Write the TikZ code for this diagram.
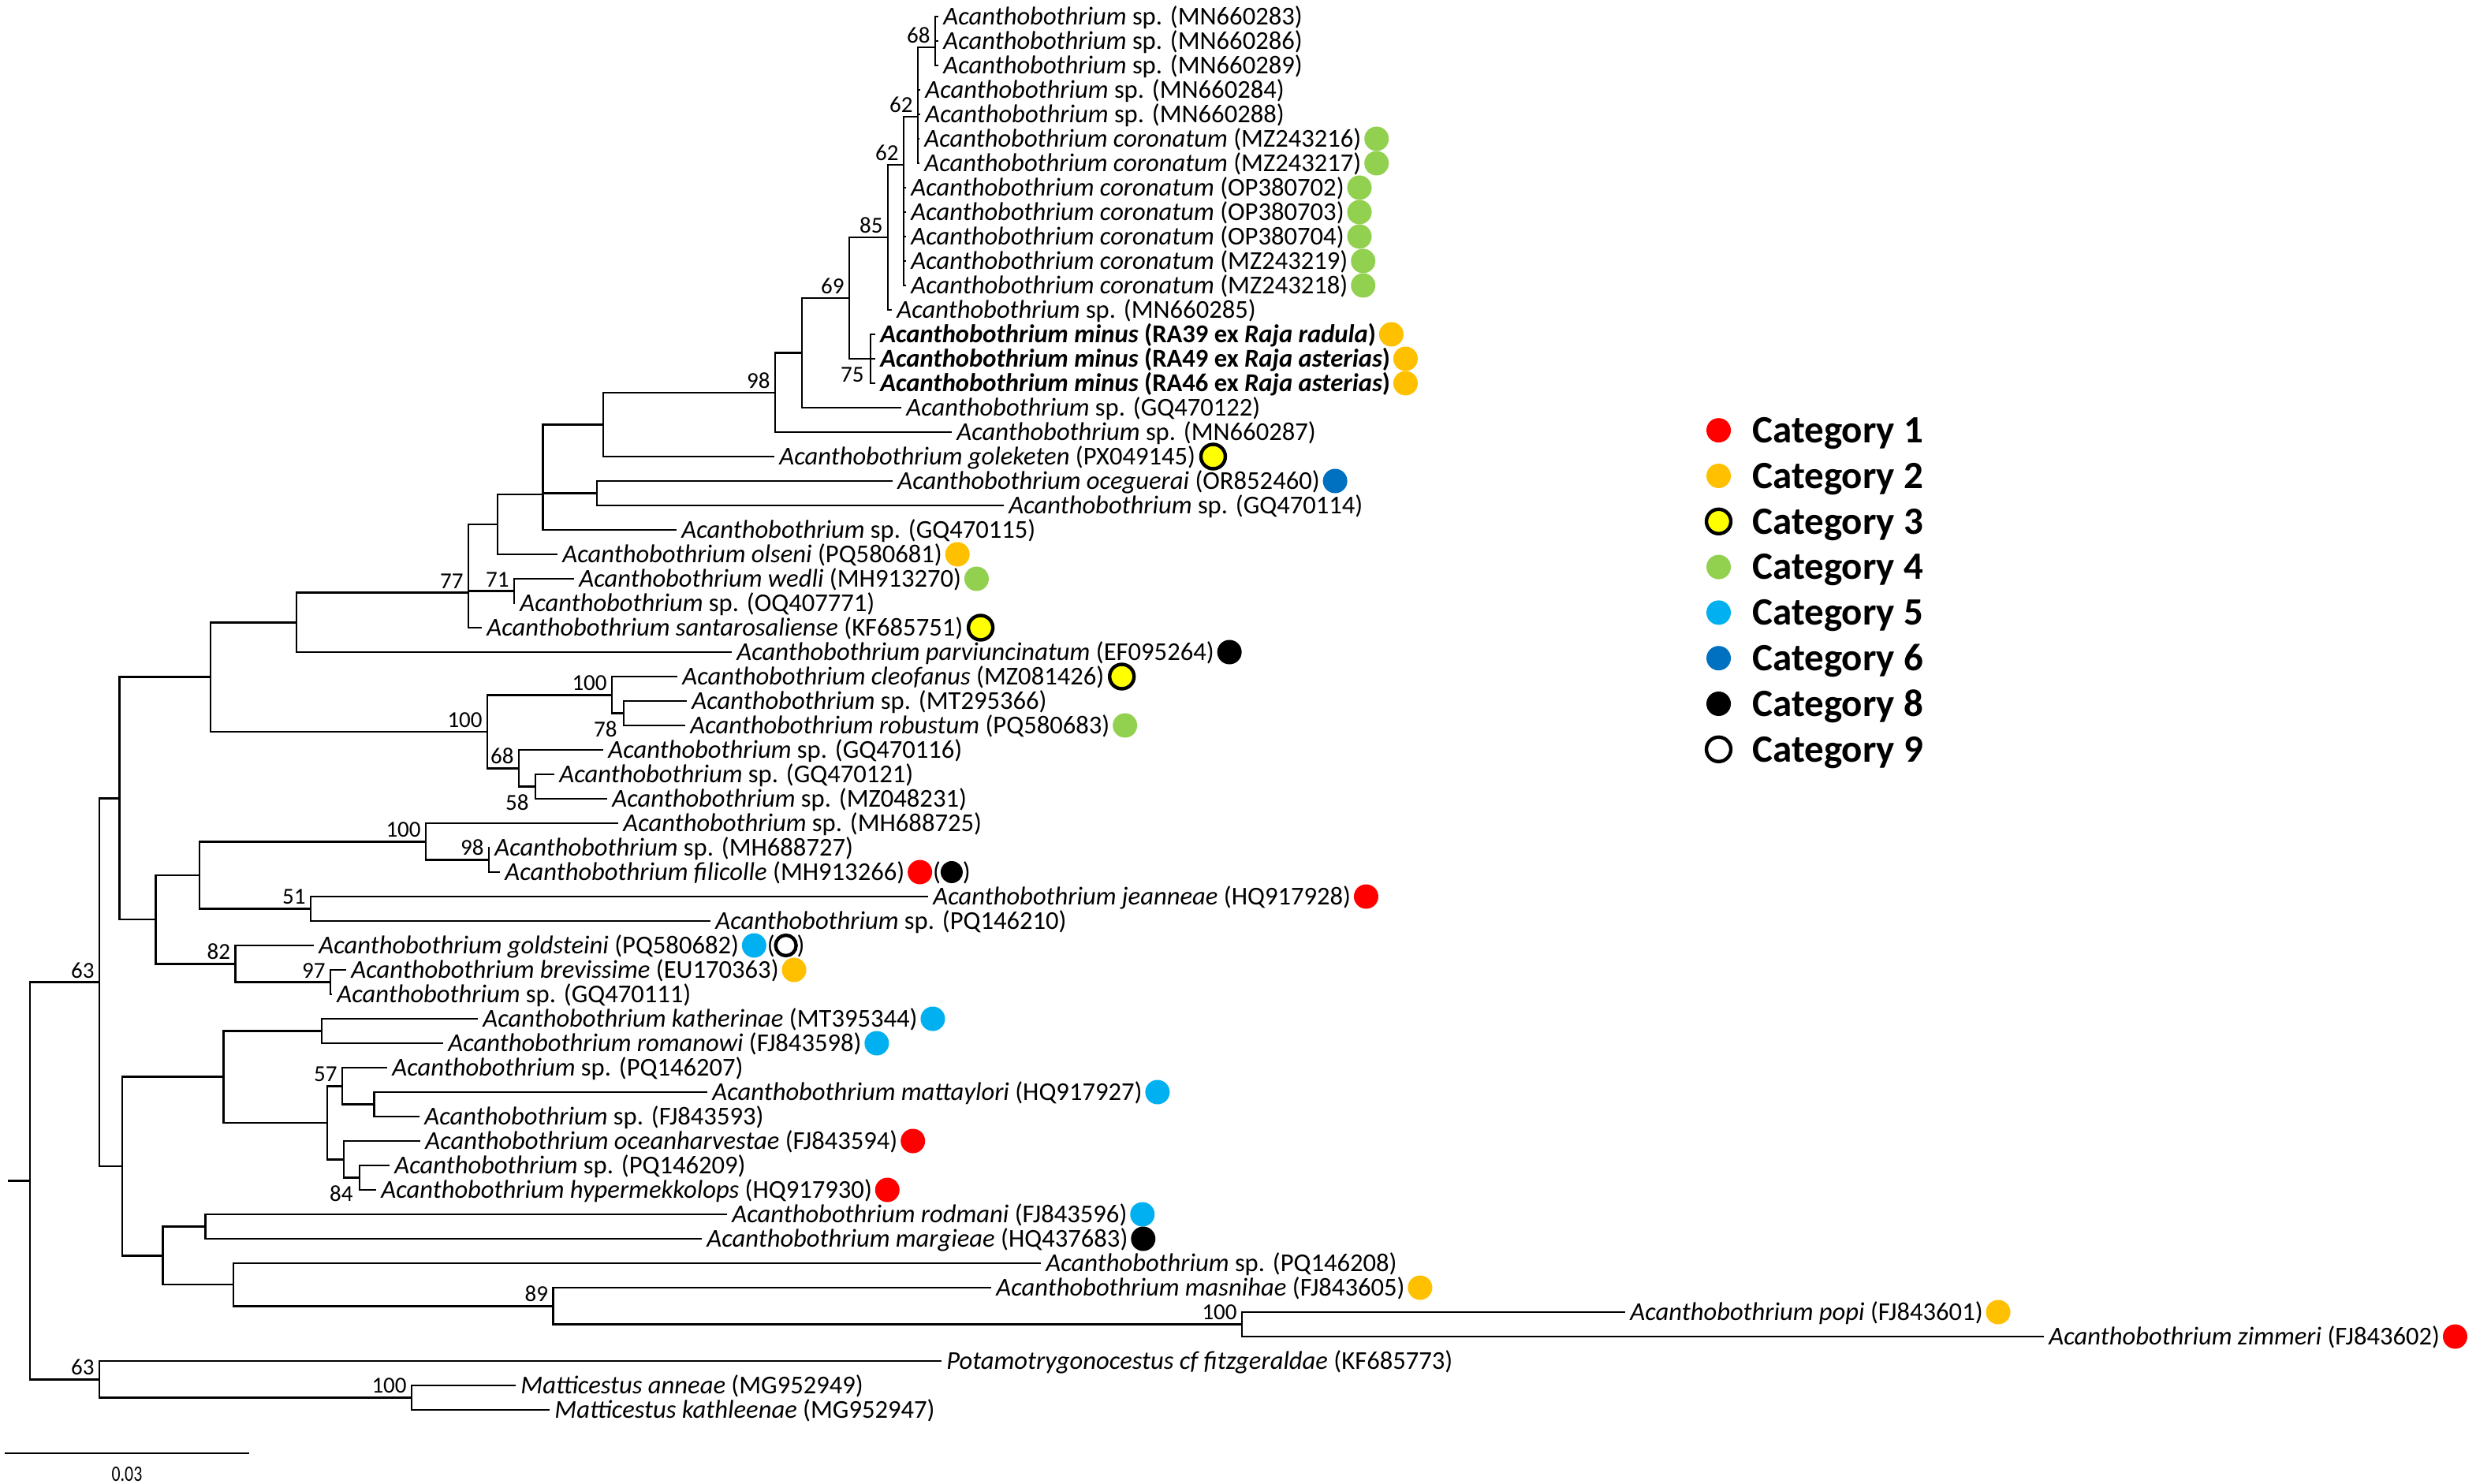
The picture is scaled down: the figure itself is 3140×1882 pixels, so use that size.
\documentclass[tikz,border=0pt]{standalone}
\usepackage{fontspec}
\setmainfont{Carlito}
\usetikzlibrary{calc}
\definecolor{catA}{HTML}{FF0000}
\definecolor{catB}{HTML}{FFC000}
\definecolor{catC}{HTML}{FFFF00}
\definecolor{catD}{HTML}{92D050}
\definecolor{catE}{HTML}{00B0F0}
\definecolor{catF}{HTML}{0070C0}
\tikzset{
  brn/.style={line width=1.25pt},
  tiplab/.style={anchor=west, inner xsep=3pt, inner ysep=0pt, text height=13pt, text depth=2.6pt, font=\fontsize{16.3}{19}\selectfont},
  bsup/.style={anchor=south east, inner sep=0pt, font=\fontsize{14.5}{17}\selectfont, xshift=-3pt, yshift=2.5pt},
  bsdn/.style={anchor=north east, inner sep=0pt, font=\fontsize{14.5}{17}\selectfont, xshift=-4pt, yshift=-5pt},
  catdot/.style={circle, inner sep=0pt, minimum size=15.5pt},
  c1/.style={catdot, fill=catA},
  c2/.style={catdot, fill=catB},
  c3/.style={catdot, fill=catC, draw=black, line width=2.2pt},
  c4/.style={catdot, fill=catD},
  c5/.style={catdot, fill=catE},
  c6/.style={catdot, fill=catF},
  c8/.style={catdot, fill=black},
  c9/.style={catdot, fill=white, draw=black, line width=2.2pt},
  parnode/.style={anchor=west, inner sep=0pt, text height=13pt, text depth=2.6pt, font=\fontsize{16.3}{19}\selectfont},
  legtext/.style={anchor=west, inner sep=0pt, text height=15.7pt, text depth=0pt, font=\fontsize{24.5}{29}\selectfont\bfseries},
}
\newcommand{\Ac}{\textit{Acanthobothrium}}
\begin{document}
\begin{tikzpicture}[x=0.5pt, y=-0.5pt]
\fill[white] (0,0) rectangle (3140,1882);
\useasboundingbox (0,0) rectangle (3140,1882);
% internal nodes
\coordinate (nA) at (1186,60);
\coordinate (nB) at (1164,148);
\coordinate (nC) at (1146,209);
\coordinate (nD) at (1126,301);
\coordinate (nE) at (1104,455);
\coordinate (nF) at (1077,378);
\coordinate (nG) at (1017,447.5);
\coordinate (nH) at (983,497.8);
\coordinate (nI) at (765,538.4);
\coordinate (nJ) at (757,625.5);
\coordinate (nK) at (688.5,627);
\coordinate (nL) at (631,665);
\coordinate (nM) at (652,749.5);
\coordinate (nN) at (594,751.6);
\coordinate (nO) at (376,789.3);
\coordinate (nQ) at (791,904.5);
\coordinate (nP) at (776,881.3);
\coordinate (nR) at (679,997.5);
\coordinate (nS) at (658,974.3);
\coordinate (nT) at (618,927.8);
\coordinate (nU) at (267,858.5);
\coordinate (nV) at (620,1090.5);
\coordinate (nW) at (540,1067.3);
\coordinate (nX) at (394,1152.5);
\coordinate (nY) at (253,1109.9);
\coordinate (nZ) at (419,1245.5);
\coordinate (nAA) at (298.5,1222.3);
\coordinate (nAB) at (197.5,1166);
\coordinate (nAC) at (151.5,1012.3);
\coordinate (nAD) at (408,1307.5);
\coordinate (nAE) at (474.5,1400.5);
\coordinate (nAF) at (434,1377.3);
\coordinate (nAG) at (456,1493.5);
\coordinate (nAH) at (436,1470.3);
\coordinate (nAI) at (415,1423.8);
\coordinate (nAJ) at (283.7,1365.6);
\coordinate (nAK) at (260.6,1555.5);
\coordinate (nAL) at (1575,1679.5);
\coordinate (nAM) at (701.5,1656.3);
\coordinate (nAN) at (296,1629.1);
\coordinate (nAO) at (206.7,1592.3);
\coordinate (nAP) at (155,1479);
\coordinate (nAQ) at (126,1245.6);
\coordinate (nAR) at (522,1772.5);
\coordinate (nAS) at (126,1749.3);
\coordinate (root) at (38,1497.4);
\coordinate (rootL) at (10,1497.4);
% tips
\node[tiplab] (t0) at (1190,21) {\Ac{} sp. (MN660283)};
\node[tiplab] (t1) at (1190,52) {\Ac{} sp. (MN660286)};
\node[tiplab] (t2) at (1190,83) {\Ac{} sp. (MN660289)};
\node[tiplab] (t3) at (1167,114) {\Ac{} sp. (MN660284)};
\node[tiplab] (t4) at (1167,145) {\Ac{} sp. (MN660288)};
\node[tiplab] (t5) at (1166,176) {\textit{Acanthobothrium coronatum} (MZ243216)};
\node[tiplab] (t6) at (1166,207) {\textit{Acanthobothrium coronatum} (MZ243217)};
\node[tiplab] (t7) at (1149,238) {\textit{Acanthobothrium coronatum} (OP380702)};
\node[tiplab] (t8) at (1149,269) {\textit{Acanthobothrium coronatum} (OP380703)};
\node[tiplab] (t9) at (1149,300) {\textit{Acanthobothrium coronatum} (OP380704)};
\node[tiplab] (t10) at (1149,331) {\textit{Acanthobothrium coronatum} (MZ243219)};
\node[tiplab] (t11) at (1149,362) {\textit{Acanthobothrium coronatum} (MZ243218)};
\node[tiplab] (t12) at (1131,393) {\Ac{} sp. (MN660285)};
\node[tiplab] (t13) at (1110,424) {\bfseries\textit{Acanthobothrium minus} (RA39 ex \textit{Raja radula})};
\node[tiplab] (t14) at (1110,455) {\bfseries\textit{Acanthobothrium minus} (RA49 ex \textit{Raja asterias})};
\node[tiplab] (t15) at (1110,486) {\bfseries\textit{Acanthobothrium minus} (RA46 ex \textit{Raja asterias})};
\node[tiplab] (t16) at (1143,517) {\Ac{} sp. (GQ470122)};
\node[tiplab] (t17) at (1207,548) {\Ac{} sp. (MN660287)};
\node[tiplab] (t18) at (982,579) {\textit{Acanthobothrium goleketen} (PX049145)};
\node[tiplab] (t19) at (1132,610) {\textit{Acanthobothrium oceguerai} (OR852460)};
\node[tiplab] (t20) at (1273,641) {\Ac{} sp. (GQ470114)};
\node[tiplab] (t21) at (858,672) {\Ac{} sp. (GQ470115)};
\node[tiplab] (t22) at (707,703) {\textit{Acanthobothrium olseni} (PQ580681)};
\node[tiplab] (t23) at (728,734) {\textit{Acanthobothrium wedli} (MH913270)};
\node[tiplab] (t24) at (653,765) {\Ac{} sp. (OQ407771)};
\node[tiplab] (t25) at (611,796) {\textit{Acanthobothrium santarosaliense} (KF685751)};
\node[tiplab] (t26) at (928,827) {\textit{Acanthobothrium parviuncinatum} (EF095264)};
\node[tiplab] (t27) at (859,858) {\textit{Acanthobothrium cleofanus} (MZ081426)};
\node[tiplab] (t28) at (871,889) {\Ac{} sp. (MT295366)};
\node[tiplab] (t29) at (869,920) {\textit{Acanthobothrium robustum} (PQ580683)};
\node[tiplab] (t30) at (765,951) {\Ac{} sp. (GQ470116)};
\node[tiplab] (t31) at (703,982) {\Ac{} sp. (GQ470121)};
\node[tiplab] (t32) at (770,1013) {\Ac{} sp. (MZ048231)};
\node[tiplab] (t33) at (784,1044) {\Ac{} sp. (MH688725)};
\node[tiplab] (t34) at (621,1075) {\Ac{} sp. (MH688727)};
\node[tiplab] (t35) at (634,1106) {\textit{Acanthobothrium filicolle} (MH913266)};
\node[tiplab] (t36) at (1177,1137) {\textit{Acanthobothrium jeanneae} (HQ917928)};
\node[tiplab] (t37) at (901,1168) {\Ac{} sp. (PQ146210)};
\node[tiplab] (t38) at (398,1199) {\textit{Acanthobothrium goldsteini} (PQ580682)};
\node[tiplab] (t39) at (439,1230) {\textit{Acanthobothrium brevissime} (EU170363)};
\node[tiplab] (t40) at (421,1261) {\Ac{} sp. (GQ470111)};
\node[tiplab] (t41) at (606,1292) {\textit{Acanthobothrium katherinae} (MT395344)};
\node[tiplab] (t42) at (562,1323) {\textit{Acanthobothrium romanowi} (FJ843598)};
\node[tiplab] (t43) at (491,1354) {\Ac{} sp. (PQ146207)};
\node[tiplab] (t44) at (897,1385) {\textit{Acanthobothrium mattaylori} (HQ917927)};
\node[tiplab] (t45) at (532,1416) {\Ac{} sp. (FJ843593)};
\node[tiplab] (t46) at (533,1447) {\textit{Acanthobothrium oceanharvestae} (FJ843594)};
\node[tiplab] (t47) at (494,1478) {\Ac{} sp. (PQ146209)};
\node[tiplab] (t48) at (477,1509) {\textit{Acanthobothrium hypermekkolops} (HQ917930)};
\node[tiplab] (t49) at (922,1540) {\textit{Acanthobothrium rodmani} (FJ843596)};
\node[tiplab] (t50) at (890,1571) {\textit{Acanthobothrium margieae} (HQ437683)};
\node[tiplab] (t51) at (1320,1602) {\Ac{} sp. (PQ146208)};
\node[tiplab] (t52) at (1257,1633) {\textit{Acanthobothrium masnihae} (FJ843605)};
\node[tiplab] (t53) at (2061,1664) {\textit{Acanthobothrium popi} (FJ843601)};
\node[tiplab] (t54) at (2592,1695) {\textit{Acanthobothrium zimmeri} (FJ843602)};
\node[tiplab] (t55) at (1194,1726) {\textit{Potamotrygonocestus cf fitzgeraldae} (KF685773)};
\node[tiplab] (t56) at (654,1757) {\textit{Matticestus anneae} (MG952949)};
\node[tiplab] (t57) at (697,1788) {\textit{Matticestus kathleenae} (MG952947)};
% branches
\foreach \p/\c in {nA/t0.west,nA/t1.west,nA/t2.west,
  nB/nA,nB/t3.west,nB/t4.west,nB/t5.west,nB/t6.west,
  nC/nB,nC/t7.west,nC/t8.west,nC/t9.west,nC/t10.west,nC/t11.west,
  nD/nC,nD/t12.west,
  nE/t13.west,nE/t14.west,nE/t15.west,
  nF/nD,nF/nE,nG/nF,nG/t16.west,nH/nG,nH/t17.west,nI/nH,nI/t18.west,
  nJ/t19.west,nJ/t20.west,nK/nI,nK/nJ,nK/t21.west,nL/nK,nL/t22.west,
  nM/t23.west,nM/t24.west,nN/nL,nN/nM,nN/t25.west,nO/nN,nO/t26.west,
  nQ/t28.west,nQ/t29.west,nP/t27.west,nP/nQ,nR/t31.west,nR/t32.west,
  nS/t30.west,nS/nR,nT/nP,nT/nS,nU/nO,nU/nT,
  nV/t34.west,nV/t35.west,nW/t33.west,nW/nV,nX/t36.west,nX/t37.west,
  nY/nW,nY/nX,nZ/t39.west,nZ/t40.west,nAA/t38.west,nAA/nZ,nAB/nY,nAB/nAA,
  nAC/nU,nAC/nAB,nAD/t41.west,nAD/t42.west,nAE/t44.west,nAE/t45.west,
  nAF/t43.west,nAF/nAE,nAG/t47.west,nAG/t48.west,nAH/t46.west,nAH/nAG,
  nAI/nAF,nAI/nAH,nAJ/nAD,nAJ/nAI,nAK/t49.west,nAK/t50.west,
  nAL/t53.west,nAL/t54.west,nAM/t52.west,nAM/nAL,nAN/t51.west,nAN/nAM,
  nAO/nAK,nAO/nAN,nAP/nAJ,nAP/nAO,nAQ/nAC,nAQ/nAP,
  nAR/t56.west,nAR/t57.west,nAS/t55.west,nAS/nAR,root/nAQ,root/nAS}
  \draw[brn] (\p) |- (\c);
\draw[brn] (rootL) -- (root);
% bootstrap values
\foreach \n/\v in {nA/68,nB/62,nC/62,nD/85,nF/69,nH/98,nN/77,nM/71,nT/100,nP/100,
  nS/68,nW/100,nV/98,nX/51,nAA/82,nZ/97,nAQ/63,nAF/57,nAM/89,nAL/100,nAS/63,nAR/100}
  \node[bsup] (b\n) at (\n) {\v};
\foreach \n/\v in {nE/75,nQ/78,nR/58,nAG/84}
  \node[bsdn] (b\n) at (\n) {\v};
% category dots
\foreach \i/\s/\o in {5/c4/6.5,6/c4/6.5,7/c4/6.5,8/c4/6.5,9/c4/6.5,10/c4/6.5,11/c4/6.5,
  13/c2/6.5,14/c2/6.5,15/c2/6.5,18/c3/8,19/c6/6.5,22/c2/6.5,23/c4/6.5,25/c3/8,
  26/c8/6.5,27/c3/8,29/c4/6.5,35/c1/6.5,36/c1/6.5,38/c5/6.5,39/c2/6.5,41/c5/6.5,
  42/c5/6.5,44/c5/6.5,46/c1/6.5,48/c1/6.5,49/c5/6.5,50/c8/6.5,52/c2/6.5,53/c2/6.5,54/c1/6.5}
  \node[\s] (d\i) at ([xshift=\o pt]t\i.east) {};
\node[parnode] (p35) at ([xshift=8pt]d35.center) {(\hspace{14pt})};
\node[catdot, fill=black, minimum size=14pt] (q35) at (p35.center) {};
\node[parnode] (p38) at ([xshift=8pt]d38.center) {(\hspace{14pt})};
\node[catdot, fill=white, draw=black, line width=2.2pt, minimum size=13pt] (q38) at (p38.center) {};
% legend
\foreach \k/\s/\lab in {0/c1/1,1/c2/2,2/c3/3,3/c4/4,4/c5/5,5/c6/6,6/c8/8,7/c9/9} {
  \node[\s] (l\k) at (2179.5,{545.7+57.8*\k}) {};
  \node[legtext] (lt\k) at (2222,{545.7+57.8*\k}) {Category \lab};
}
% scale bar
\coordinate (sb1) at (6,1843);
\coordinate (sb2) at (316,1843);
\draw[line width=1.3pt] (sb1) -- (sb2);
\node[font=\fontsize{14}{16}\selectfont, inner sep=0pt] (sbl) at (161,1870) {\scalebox{0.78}[1]{0.03}};
\end{tikzpicture}
\end{document}
